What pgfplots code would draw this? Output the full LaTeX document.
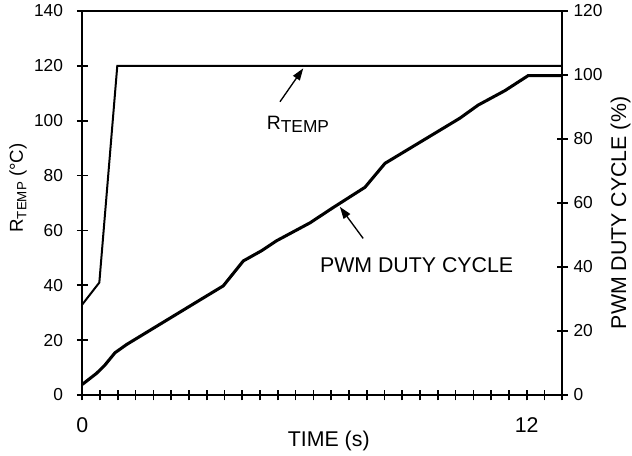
\documentclass[border=0pt]{standalone}
\usepackage{fontspec}
\setmainfont{Liberation Sans}
\usepackage{pgfplots}
\pgfplotsset{compat=1.18}
\usetikzlibrary{arrows.meta}
\begin{document}
\begin{tikzpicture}
\pgfplotsset{
 every axis/.append style={
  width=360pt, height=288pt, scale only axis,
  xmin=0, xmax=27,
  axis line style={line width=1.6pt},
  tick style={line width=1.3pt, black},
  major tick length=8pt, minor tick length=8pt,
  tick align=center,
  /pgf/number format/assume math mode=true,
  xticklabel style={font=\fontsize{16}{16}\selectfont, inner sep=0pt, anchor=north, yshift=-13pt},
  yticklabel style={font=\fontsize{13}{13}\selectfont, inner sep=0pt},
 }
}
\begin{axis}[
  ymin=0, ymax=140, ytick={0,20,...,140},
  xtick={0,25}, xticklabels={0,12},
  minor xtick={1,...,27},
  xtick pos=bottom, ytick pos=left,
  yticklabel style={anchor=east, xshift=-10.3pt},
  xlabel={TIME (s)},
  xlabel style={font=\fontsize{16}{16}\selectfont, at={(axis description cs:0.5135,0)}, anchor=base, yshift=-38.8pt},
  ylabel={R\raisebox{-2.5pt}{\fontsize{10}{10}\selectfont TEMP} (°C)},
  ylabel style={font=\fontsize{14}{14}\selectfont, at={(axis description cs:0,0.539)}, anchor=base, yshift=44.5pt},
]
\addplot[line width=1.5pt, no marks] coordinates {(0,33) (0.96,41) (1.97,120) (27,120)};
\node[anchor=base west, font=\fontsize{14.5}{14.5}\selectfont, inner sep=0pt] at (axis cs:10.37,96.97) {R\raisebox{-2.8pt}{\fontsize{13}{13}\selectfont TEMP}};
\node[anchor=base west, font=\fontsize{16}{16}\selectfont, inner sep=0pt] at (axis cs:13.36,44.8) {PWM DUTY CYCLE};
\draw[line width=1pt, -{Triangle[length=9pt,width=6pt]}] (axis cs:11.12,106.9) -- (axis cs:12.43,119.1);
\draw[line width=1pt, -{Triangle[length=9pt,width=6pt]}] (axis cs:15.80,57.1) -- (axis cs:14.49,68.6);
\end{axis}
\begin{axis}[
  ymin=0, ymax=120, ytick={0,20,...,120},
  axis y line*=right, axis x line=none,
  yticklabel style={anchor=west, xshift=4.3pt},
  ylabel={PWM DUTY CYCLE (\%)},
  ylabel style={font=\fontsize{16}{16}\selectfont, at={(axis description cs:1,0.474)}, anchor=base, yshift=-47.8pt},
]
\addplot[line width=2.3pt, no marks] coordinates {
(0,3.3) (0.81,6.8) (1.28,9.4) (1.84,13.2) (2.5,15.8) (6.62,29.7) (7.93,34.1)
(9.06,41.9) (10.09,45.1) (10.93,48.2) (12.81,53.8) (14.12,58.6) (15.9,64.9)
(17.03,72.4) (21.24,86.5) (22.27,90.6) (23.77,95.1) (25.08,99.8) (27,99.8)};
\end{axis}
\pgfresetboundingbox
\path[use as bounding box] (-61.7pt,-45pt) rectangle (412.3pt,296.25pt);
\end{tikzpicture}
\end{document}
